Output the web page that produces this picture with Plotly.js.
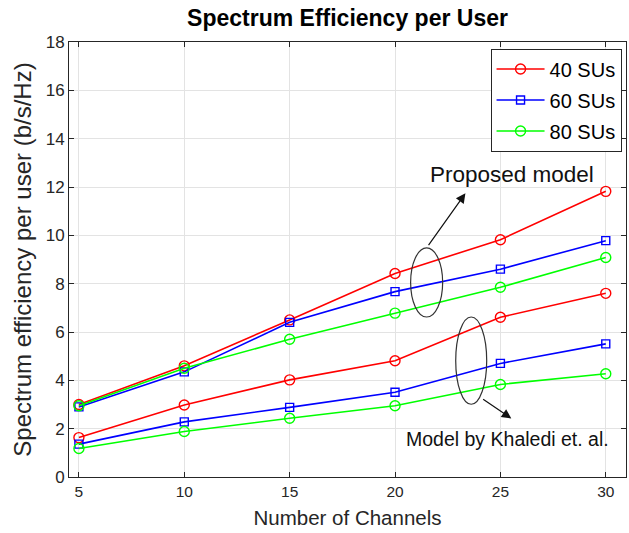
<!DOCTYPE html>
<html>
<head>
<meta charset="utf-8">
<script src="https://cdn.plot.ly/plotly-3.0.1.min.js"></script>
<style>html,body{margin:0;padding:0;background:#fff;}#chart{width:629px;height:533px;}</style>
</head>
<body>
<div id="chart"></div>
<script>
const channels = [5, 10, 15, 20, 25, 30];
const seriesNames = ['40 SUs', '60 SUs', '80 SUs'];
const proposed40 = [3.0, 4.6, 6.5, 8.42, 9.82, 11.82];
const proposed60 = [2.9, 4.35, 6.4, 7.67, 8.6, 9.78];
const proposed80 = [2.95, 4.5, 5.7, 6.78, 7.85, 9.08];
const khaledi40 = [1.63, 2.98, 4.02, 4.81, 6.61, 7.6];
const khaledi60 = [1.36, 2.28, 2.88, 3.51, 4.7, 5.51];
const khaledi80 = [1.18, 1.88, 2.43, 2.95, 3.83, 4.27];
const colors = ['#ff0000', '#0000ff', '#00ff00'];
const symbols = ['circle-open', 'square-open', 'circle-open'];

function mk(y, i, show) {
  return {
    x: channels, y: y, type: 'scatter', mode: 'lines+markers',
    name: seriesNames[i], showlegend: show, legendgroup: 'g' + i,
    line: {color: colors[i], width: 1.6},
    marker: {symbol: symbols[i], size: symbols[i] === 'square-open' ? 8 : 10, color: colors[i], line: {width: 1.4, color: colors[i]}}
  };
}
const data = [
  mk(proposed40, 0, true), mk(proposed60, 1, true), mk(proposed80, 2, true),
  mk(khaledi40, 0, false), mk(khaledi60, 1, false), mk(khaledi80, 2, false)
];

const axisCommon = {
  showline: true, linecolor: '#262626', linewidth: 1, mirror: 'ticks',
  ticks: 'inside', ticklen: 5, tickcolor: '#262626',
  showgrid: true, gridcolor: '#e3e3e3', gridwidth: 1, zeroline: false,
  tickfont: {family: 'Liberation Sans, Arial', size: 15.5, color: '#262626'}
};
const layout = {
  width: 629, height: 533,
  margin: {l: 69, r: 3, t: 42, b: 56},
  paper_bgcolor: '#ffffff', plot_bgcolor: '#ffffff',
  font: {family: 'Liberation Sans, Arial', color: '#262626'},
  title: {text: '<b>Spectrum Efficiency per User</b>', x: 0.5, xref: 'paper', y: 0.982, yref: 'container', yanchor: 'top',
    font: {family: 'Liberation Sans, Arial', size: 23, color: '#000000'}},
  xaxis: Object.assign({}, axisCommon, {
    range: [4.53, 30.96], tickvals: channels, ticktext: channels.map(String),
    title: {text: 'Number of Channels', font: {size: 20.5, color: '#262626'}, standoff: 12}
  }),
  yaxis: Object.assign({}, axisCommon, {
    range: [0, 18], dtick: 2, tickfont: {family: 'Liberation Sans, Arial', size: 17, color: '#262626'},
    title: {text: 'Spectrum efficiency per user (b/s/Hz)', font: {size: 24, color: '#262626'}, standoff: 7}
  }),
  legend: {
    x: 0.992, y: 0.985, xanchor: 'right', yanchor: 'top',
    bgcolor: '#ffffff', bordercolor: '#262626', borderwidth: 1,
    font: {family: 'Liberation Sans, Arial', size: 20, color: '#000000'},
    traceorder: 'grouped', tracegroupgap: 2, itemwidth: 48
  },
  shapes: [
    {type: 'circle', xref: 'x', yref: 'y', x0: 20.74, x1: 22.26, y0: 6.62, y1: 9.48, line: {color: '#333333', width: 1.2}},
    {type: 'circle', xref: 'x', yref: 'y', x0: 22.88, x1: 24.35, y0: 3.01, y1: 6.62, line: {color: '#333333', width: 1.2}}
  ],
  annotations: [
    {x: 23.34, y: 11.74, ax: 21.54, ay: 9.53, axref: 'x', ayref: 'y', xref: 'x', yref: 'y', text: '', showarrow: true, arrowhead: 2, arrowsize: 1.6, arrowwidth: 1.2, arrowcolor: '#111111'},
    {x: 25.52, y: 2.42, ax: 24.11, ay: 3.26, axref: 'x', ayref: 'y', xref: 'x', yref: 'y', text: '', showarrow: true, arrowhead: 2, arrowsize: 1.6, arrowwidth: 1.2, arrowcolor: '#111111'},
    {x: 25.56, y: 12.5, xref: 'x', yref: 'y', text: 'Proposed model', showarrow: false, font: {family: 'Liberation Sans, Arial', size: 22.5, color: '#111111'}},
    {x: 25.32, y: 1.59, xref: 'x', yref: 'y', text: 'Model by Khaledi et. al.', showarrow: false, font: {family: 'Liberation Sans, Arial', size: 19.5, color: '#111111'}}
  ]
};
Plotly.newPlot('chart', data, layout, {displayModeBar: false, staticPlot: true});
</script>
</body>
</html>
